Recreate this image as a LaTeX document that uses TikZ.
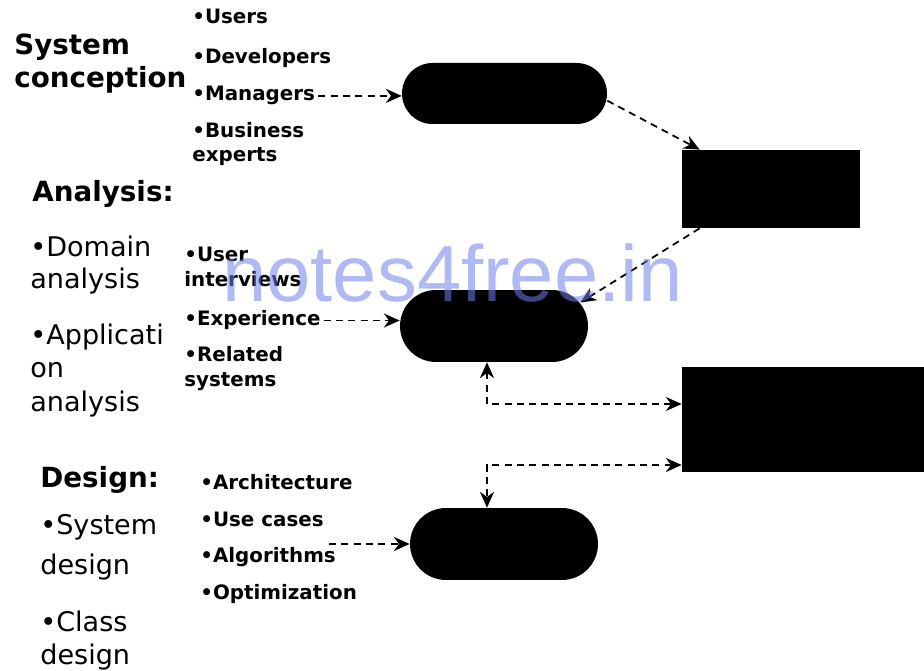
\documentclass[tikz,border=0pt]{standalone}
\usepackage{fontspec}
\setmainfont{DejaVu Sans}
\newfontfamily\markfont{Liberation Sans}
\usetikzlibrary{arrows.meta}
\definecolor{markblue}{RGB}{109,127,236}

\begin{document}
\begin{tikzpicture}[x=0.02cm, y=-0.02cm, >={Stealth[length=9pt,width=8pt]},
		blk/.style={fill=black, inner sep=0pt},
		conn/.style={line width=1pt, dash pattern=on 4pt off 3pt},
		head/.style={anchor=base west, inner sep=0pt, font=\fontsize{15.8}{18}\selectfont\bfseries},
		topic/.style={anchor=base west, inner sep=0pt, font=\fontsize{15.4}{18}\selectfont},
		item/.style={anchor=base west, inner sep=0pt, font=\fontsize{11.3}{13}\selectfont\bfseries}]
		\useasboundingbox (0,0) rectangle (924,671);

		% system conception
		\node[head] (sys1) at (14,55) {System};
		\node[head] (sys2) at (14,88) {conception};
		\node[item] (usr) at (192,24) {•Users};
		\node[item] (dev) at (192,64) {•Developers};
		\node[item] (mgr) at (192,101) {•Managers};
		\node[item] (bus1) at (192,138) {•Business};
		\node[item] (bus2) at (192,162) {experts};

		% analysis
		\node[head] (ana) at (32,202) {Analysis:};
		\node[topic] (dom1) at (30,257) {•Domain};
		\node[topic] (dom2) at (30,289) {analysis};
		\node[topic] (app1) at (30,345) {•Applicati};
		\node[topic] (app2) at (30,378) {on};
		\node[topic] (app3) at (30,412) {analysis};
		\node[item] (int1) at (184,262) {•User};
		\node[item] (int2) at (184,287) {interviews};
		\node[item] (exp) at (184,326) {•Experience};
		\node[item] (rel1) at (184,362) {•Related};
		\node[item] (rel2) at (184,387) {systems};

		% design
		\node[head] (des) at (40,488) {Design:};
		\node[topic] (sd1) at (40,535) {•System};
		\node[topic] (sd2) at (40,575) {design};
		\node[topic] (cd1) at (40,632) {•Class};
		\node[topic] (cd2) at (40,665) {design};
		\node[item] (arc) at (200,490) {•Architecture};
		\node[item] (use) at (200,527) {•Use cases};
		\node[item] (alg) at (200,563) {•Algorithms};
		\node[item] (opt) at (200,600) {•Optimization};

		% black shapes
		\node[blk, rounded corners=0.61cm, minimum width=4.1cm, minimum height=1.22cm] (pill1) at (504.5,93.5) {};
		\node[blk, minimum width=3.56cm, minimum height=1.56cm] (rect1) at (771,189) {};
		\node[blk, rounded corners=0.72cm, minimum width=3.76cm, minimum height=1.44cm] (pill2) at (494,326) {};
		\node[blk, minimum width=4.84cm, minimum height=2.1cm] (rect2) at (803,419.5) {};
		\node[blk, rounded corners=0.72cm, minimum width=3.76cm, minimum height=1.44cm] (pill3) at (504,544) {};

		% connectors
		\draw[conn, ->] ([xshift=0.06cm]mgr.east) -- (mgr.east -| pill1.west);
		\draw[conn, ->] (pill1.-4) -- ([xshift=0.36cm]rect1.north west);
		\draw[conn, ->] ([xshift=0.36cm]rect1.south west) -- ([xshift=-0.16cm]pill2.14);
		\draw[conn, ->] ([xshift=0.06cm]exp.east) -- (exp.east -| pill2.west);
		\draw[conn, <->] ([xshift=-0.14cm]pill2.south) |- ([yshift=0.31cm]rect2.west);
		\draw[conn, <->] ([yshift=-0.91cm]rect2.west) -| ([xshift=-0.34cm]pill3.north);
		\draw[conn, ->] ([xshift=-0.14cm]alg.east |- pill3.west) -- (pill3.west);

		% watermark
		\node[anchor=base west, inner sep=0pt, font=\markfont\fontsize{45.3}{50}\selectfont, text=markblue, opacity=0.55] (mark) at (222,302) {notes4free.in};
	\end{tikzpicture}
\end{document}
